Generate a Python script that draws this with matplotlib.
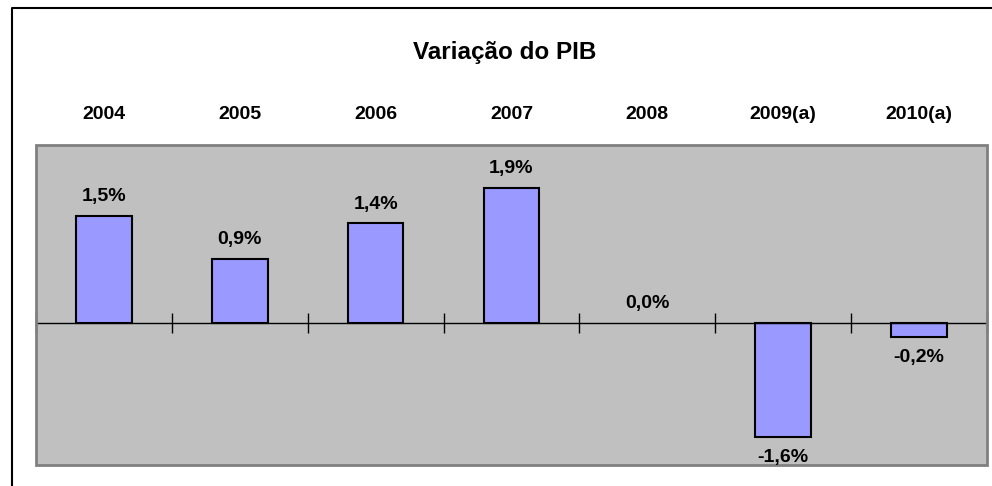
import matplotlib
matplotlib.use("Agg")
import matplotlib.pyplot as plt
import numpy as np
from matplotlib.patches import Rectangle
from matplotlib.lines import Line2D

title = "Variação do PIB"
categories = ["2004", "2005", "2006", "2007", "2008", "2009(a)", "2010(a)"]
values = [1.5, 0.9, 1.4, 1.9, 0.0, -1.6, -0.2]

plt.rcParams['font.family'] = ['Liberation Sans', 'DejaVu Sans']

W, H = 992, 486
fig = plt.figure(figsize=(W / 100, H / 100), dpi=100)
fig.patch.set_facecolor('white')

ax = fig.add_axes([36 / W, (H - 465) / H, (987 - 36) / W, (465 - 145) / H])
ax.set_facecolor('#C0C0C0')

x = np.arange(len(categories))
ax.bar(x, values, width=0.41, color='#9999FF', edgecolor='black',
       linewidth=[1.5 if v != 0 else 0 for v in values], zorder=3)

ax.set_xlim(-0.5, len(categories) - 0.5)
ax.set_ylim(-2.0, 2.5)
ax.set_yticks([])

# zero axis with boundary ticks
for s in ['top', 'left', 'right']:
    ax.spines[s].set_visible(False)
ax.spines['bottom'].set_position(('data', 0))
ax.spines['bottom'].set_color('black')
ax.spines['bottom'].set_linewidth(1.0)
ax.spines['bottom'].set_zorder(4)
ax.set_xticks(np.arange(len(categories) + 1) - 0.5)
ax.set_xticklabels([])
ax.tick_params(axis='x', direction='inout', length=14, width=1.0, color='black')

# plot area border
ax.add_patch(Rectangle((0, 0), 1, 1, transform=ax.transAxes, fill=False,
                       edgecolor='#808080', linewidth=2, clip_on=False, zorder=5))

# category labels on top
sec = ax.secondary_xaxis('top')
sec.set_xticks(x)
sec.set_xticklabels(categories, fontsize=14, fontweight='bold')
sec.tick_params(length=0, pad=15.5)
sec.spines['top'].set_visible(False)

# data labels
for xi, v in zip(x, values):
    lab = f"{v:.1f}%".replace('.', ',')
    off = 13.8 if v >= 0 else -15
    ax.annotate(lab, (xi, v), xytext=(0, off), textcoords='offset points',
                ha='center', va='center', fontsize=14, fontweight='bold', zorder=6)

fig.text(505 / W, 1 - 53 / H, title, ha='center', va='center',
         fontsize=17.5, fontweight='bold')

# chart area border (partially visible)
fig.add_artist(Line2D([12 / W, 12 / W, 1.0], [0, 1 - 8 / H, 1 - 8 / H],
                      transform=fig.transFigure, color='black', linewidth=1.5))

fig.savefig('out.png', dpi=100, facecolor='white')
